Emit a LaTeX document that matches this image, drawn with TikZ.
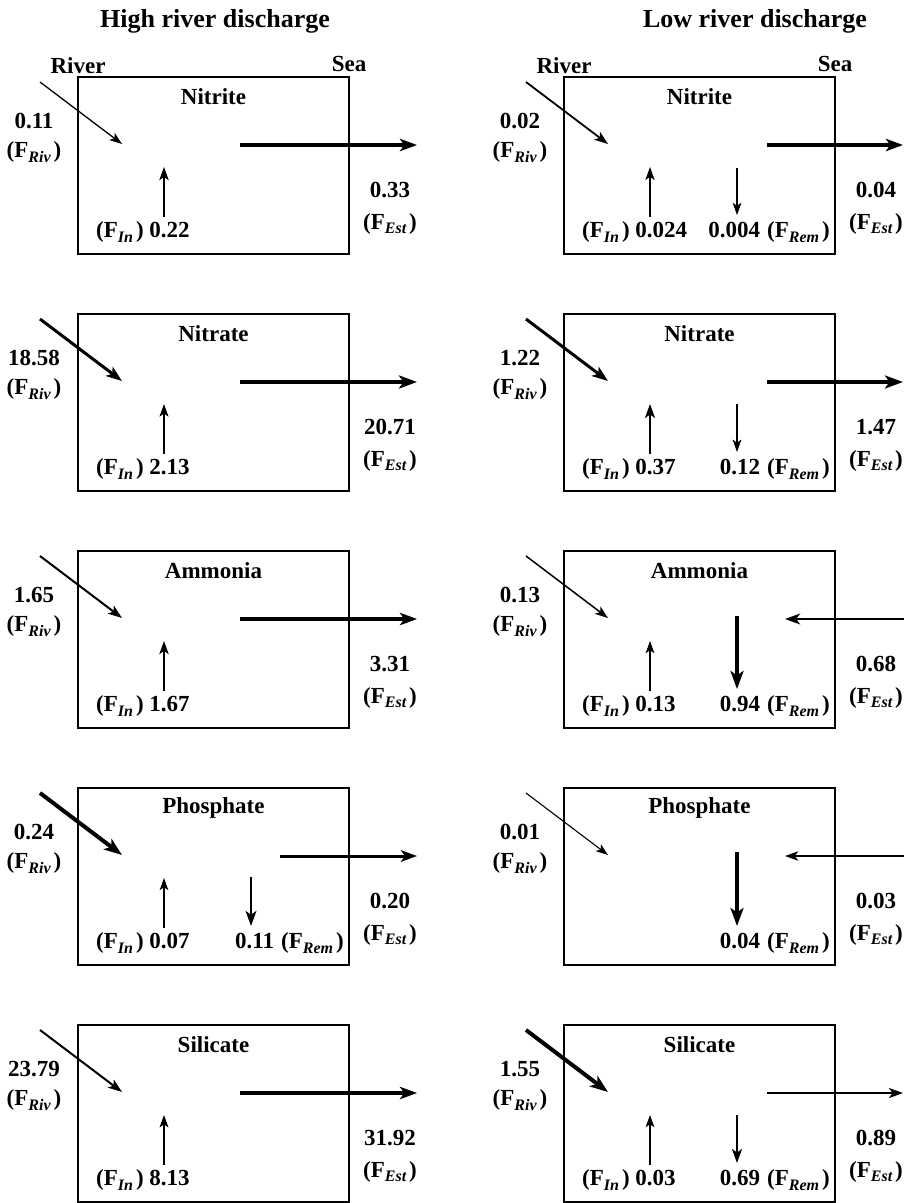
\documentclass[tikz,border=0pt]{standalone}
\usepackage{fontspec}
\setmainfont{Liberation Serif}
\usetikzlibrary{arrows.meta}
\newcommand\sbx[1]{\raisebox{-4.5pt}{\fontsize{16}{16}\selectfont\bfseries\itshape #1}}
\newcommand\flx[1]{(F\sbx{#1}\kern3pt)}
\tikzset{
  every node/.style={font=\fontsize{23}{29}\selectfont\bfseries, inner sep=0pt},
  titlefont/.style={font=\fontsize{26}{30}\selectfont\bfseries},
  box/.style={draw, line width=1.9pt, minimum width=271pt, minimum height=177pt},
  flow/.style={-{Stealth[length={10pt 2},width={7pt 1.5},inset={2.5pt 0.5}]}},
}
% panel pieces (coordinates relative to the scope)
\newcommand\pbox[2]{\node[box] (#1) at (213.5,88.5) {}; \node (#1t) at (213.5,20) {#2};}
\newcommand\priv[3]{%
  \coordinate (#1r0) at (40,5); \coordinate (#1r1) at (122,67);
  \draw[flow,line width=#3pt] (#1r0) -- (#1r1);
  \node[align=center] (#1rl) at (34,61) {#2\\\flx{Riv}};}
\newcommand\pestout[4]{%
  \coordinate (#1e0) at (#4,68); \coordinate (#1e1) at (417,68);
  \draw[flow,line width=#3pt] (#1e0) -- (#1e1);
  \node[align=center,font=\fontsize{23}{32}\selectfont\bfseries] (#1el) at (390,131) {#2\\\flx{Est}};}
\newcommand\pestin[3]{%
  \coordinate (#1e0) at (418,68); \coordinate (#1e1) at (299,68);
  \draw[flow,line width=#3pt] (#1e0) -- (#1e1);
  \node[align=center,font=\fontsize{23}{32}\selectfont\bfseries] (#1el) at (390,131) {#2\\\flx{Est}};}
\newcommand\pin[3]{%
  \coordinate (#1i0) at (164,140); \coordinate (#1i1) at (164,90);
  \draw[flow,line width=#3pt] (#1i0) -- (#1i1);
  \node[anchor=west] (#1il) at (96,155) {\flx{In} #2};}
\newcommand\prem[4]{%
  \coordinate (#1m0) at (251,#4); \coordinate (#1m1) at (251,138);
  \draw[flow,line width=#3pt] (#1m0) -- (#1m1);
  \node[anchor=east] (#1ml) at (344,155) {#2\hspace{7pt}\flx{Rem}};}
\begin{document}
\begin{tikzpicture}[x=1pt,y=-1pt]
\useasboundingbox (0,0) rectangle (904,1203);
\node[titlefont] (th) at (215,21) {High river discharge};
\node[titlefont] (tl) at (755,21) {Low river discharge};
\node (rh) at (78,66) {River};
\node (sh) at (349,64) {Sea};
\node (rl) at (564,66) {River};
\node (sl) at (835,64) {Sea};
% ---------- High discharge ----------
\begin{scope}[shift={(0,77)}]
  \pbox{hA}{Nitrite}
  \priv{hA}{0.11}{1.3}
  \pestout{hA}{0.33}{3.5}{240}
  \pin{hA}{0.22}{1.6}
\end{scope}
\begin{scope}[shift={(0,314)}]
  \pbox{hB}{Nitrate}
  \priv{hB}{18.58}{3}
  \pestout{hB}{20.71}{4}{240}
  \pin{hB}{2.13}{1.3}
\end{scope}
\begin{scope}[shift={(0,551)}]
  \pbox{hC}{Ammonia}
  \priv{hC}{1.65}{2}
  \pestout{hC}{3.31}{3.5}{240}
  \pin{hC}{1.67}{1.6}
\end{scope}
\begin{scope}[shift={(0,788)}]
  \pbox{hD}{Phosphate}
  \priv{hD}{0.24}{4}
  \pestout{hD}{0.20}{3}{280}
  \pin{hD}{0.07}{1.1}
  \prem{hD}{0.11}{2.5}{89}
\end{scope}
\begin{scope}[shift={(0,1025)}]
  \pbox{hE}{Silicate}
  \priv{hE}{23.79}{2}
  \pestout{hE}{31.92}{3.5}{240}
  \pin{hE}{8.13}{1.2}
\end{scope}
% ---------- Low discharge ----------
\begin{scope}[shift={(486,77)}]
  \pbox{lA}{Nitrite}
  \priv{lA}{0.02}{1.8}
  \pestout{lA}{0.04}{3.5}{281}
  \pin{lA}{0.024}{1.5}
  \prem{lA}{0.004}{1.1}{91}
\end{scope}
\begin{scope}[shift={(486,314)}]
  \pbox{lB}{Nitrate}
  \priv{lB}{1.22}{3}
  \pestout{lB}{1.47}{4}{281}
  \pin{lB}{0.37}{2}
  \prem{lB}{0.12}{1.2}{90}
\end{scope}
\begin{scope}[shift={(486,551)}]
  \pbox{lC}{Ammonia}
  \priv{lC}{0.13}{1.5}
  \pestin{lC}{0.68}{2.5}
  \pin{lC}{0.13}{1.1}
  \prem{lC}{0.94}{4}{65}
\end{scope}
\begin{scope}[shift={(486,788)}]
  \pbox{lD}{Phosphate}
  \priv{lD}{0.01}{1.1}
  \pestin{lD}{0.03}{1.6}
  \prem{lD}{0.04}{4}{64}
\end{scope}
\begin{scope}[shift={(486,1025)}]
  \pbox{lE}{Silicate}
  \priv{lE}{1.55}{4}
  \pestout{lE}{0.89}{2}{281}
  \pin{lE}{0.03}{1.1}
  \prem{lE}{0.69}{2}{90}
\end{scope}
\end{tikzpicture}
\end{document}
